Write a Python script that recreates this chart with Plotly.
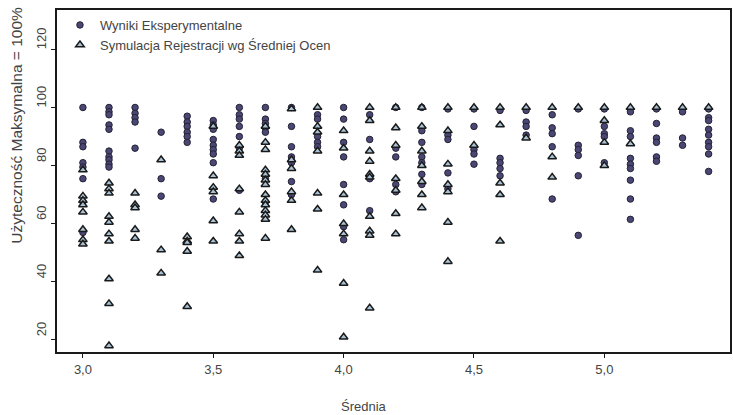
import plotly.graph_objects as go

# Column positions (Średnia) and values
cols = [3.0, 3.1, 3.2, 3.3, 3.4, 3.5, 3.6, 3.7, 3.8, 3.9, 4.0, 4.1, 4.2,
        4.3, 4.4, 4.5, 4.6, 4.7, 4.8, 4.9, 5.0, 5.1, 5.2, 5.3, 5.4]

exp_vals = [
    [100, 88, 86.5, 81, 79.5, 75.5, 67.5, 57],
    [100, 98.5, 97.5, 94, 92.5, 85, 83, 82, 80.5, 79.5],
    [100, 98, 96.5, 95, 86],
    [91.5, 75.5, 69.5],
    [97, 95, 93.5, 91.5, 90, 88],
    [95.5, 94, 92.5, 89, 87, 85.5, 84, 81, 68.5],
    [100, 97.5, 96, 93.5, 90, 86, 71.5],
    [100, 96, 94.5, 93, 91.5, 75.5, 67.5],
    [100, 93.5, 86.5, 83, 81, 74.5, 70],
    [97.5, 96, 90, 88, 86.5],
    [100, 96, 88, 83, 73.5, 66.5, 59, 54.5],
    [97.5, 89, 75.5, 64.5],
    [100, 86, 83, 73.5, 71],
    [100, 92, 88, 83, 81, 77, 73.5],
    [99.5, 90.5, 89, 77.5, 72],
    [99.5, 93.5, 85.5, 84, 80.5],
    [99, 82.5, 81, 79, 76.5],
    [99, 95, 93.5, 90.5],
    [97.5, 93, 91, 86.5, 68.5],
    [99.5, 87, 85.5, 83.5, 76.5, 56],
    [99.5, 93.5, 91, 90, 81],
    [98.5, 92, 90, 82.5, 80.5, 79, 75, 68.5, 61.5],
    [99.5, 94.5, 89.5, 88, 83, 81.5],
    [98.5, 89.5, 87],
    [99.5, 96.5, 95.5, 92.5, 90.5, 88, 86.5, 84, 78],
]

sim_vals = [
    [78.5, 69.5, 68, 66.5, 64, 58, 54.5, 53],
    [74, 72, 70.5, 62.5, 60.5, 56.5, 54, 41, 32.5, 18],
    [70.5, 66.5, 65.5, 58, 55],
    [82, 51, 43],
    [55.5, 54, 53.5, 50.5, 31.5],
    [93.5, 76.5, 72.5, 71, 61, 54],
    [87, 85, 83.5, 72, 64, 56.5, 54, 49],
    [93.5, 88, 85.5, 78.5, 77, 75, 73.5, 70, 68, 66.5, 64.5, 63, 61.5, 55],
    [99.5, 82, 79, 71, 68, 58],
    [100, 93.5, 91.5, 85, 70.5, 65, 44],
    [92, 86, 70, 60, 56.5, 39.5, 21],
    [100, 95.5, 85, 81.5, 77, 76, 62.5, 57.5, 56, 31],
    [100, 93, 87, 75.5, 71.5, 63.5, 56.5],
    [100, 93.5, 85, 80, 74.5, 70, 65.5],
    [100, 92, 80.5, 73.5, 71, 60.5, 47],
    [100, 87],
    [100, 94, 74, 70, 54],
    [100, 89.5],
    [100, 83, 76],
    [100],
    [100, 95.5, 88, 80],
    [100, 87.5],
    [100],
    [100],
    [100],
]

x_ticks = [3.0, 3.5, 4.0, 4.5, 5.0]
y_ticks = [20, 40, 60, 80, 100, 120]

ex, ey = [], []
for c, vs in zip(cols, exp_vals):
    ex += [c] * len(vs)
    ey += vs
sx, sy = [], []
for c, vs in zip(cols, sim_vals):
    sx += [c] * len(vs)
    sy += vs

FONT = "Liberation Sans Narrow, Liberation Sans, Arial, sans-serif"
TXT = "#444444"

fig = go.Figure()
fig.add_trace(go.Scatter(
    x=ex, y=ey, mode="markers", name="Wyniki Eksperymentalne",
    marker=dict(symbol="circle", size=6.5, color="#4b4775",
                line=dict(color="#222233", width=1)),
))
fig.add_trace(go.Scatter(
    x=sx, y=sy, mode="markers", name="Symulacja Rejestracji wg Średniej Ocen",
    marker=dict(symbol="triangle-up", size=7.5, color="#a9c3d6",
                line=dict(color="#1a1a1a", width=1.5)),
))

fig.update_layout(
    width=733, height=415,
    margin=dict(l=57, r=1, t=10, b=63),
    paper_bgcolor="white", plot_bgcolor="white",
    separators=", ",
    font=dict(family=FONT, size=12, color=TXT),
    showlegend=True,
    legend=dict(x=0.0044, y=1.0, xanchor="left", yanchor="top",
                bgcolor="rgba(0,0,0,0)", font=dict(size=13, color=TXT),
                itemsizing="trace", tracegroupgap=0),
)
fig.update_xaxes(
    range=[2.9006, 5.482], tickvals=x_ticks, tickformat=".1f",
    showgrid=False, zeroline=False,
    showline=True, linecolor="#1a1a1a", linewidth=2, mirror=True,
    ticks="outside", ticklen=4, tickcolor="#1a1a1a",
    tickfont=dict(size=13, color=TXT),
)
fig.update_yaxes(
    range=[15.86, 133.55], tickvals=y_ticks,
    showgrid=False, zeroline=False,
    showline=True, linecolor="#1a1a1a", linewidth=2, mirror=True,
    ticks="outside", ticklen=4, tickcolor="#1a1a1a",
    tickangle=-90, ticklabelshift=-9,
    tickfont=dict(size=13, color=TXT),
)

fig.add_annotation(
    text="Użyteczność Maksymalna = 100%", xref="paper", yref="paper",
    x=-57/675, y=(352 - 125) / 342, xanchor="left", yanchor="middle",
    textangle=-90, showarrow=False, xshift=5,
    font=dict(size=15.5, color=TXT, family=FONT),
)
fig.add_annotation(
    text="Średnia", xref="paper", yref="paper",
    x=(365 - 57) / 675, y=-(407 - 352) / 342, xanchor="center", yanchor="middle",
    showarrow=False, font=dict(size=13, color=TXT, family=FONT),
)

fig.write_html("out.html")
